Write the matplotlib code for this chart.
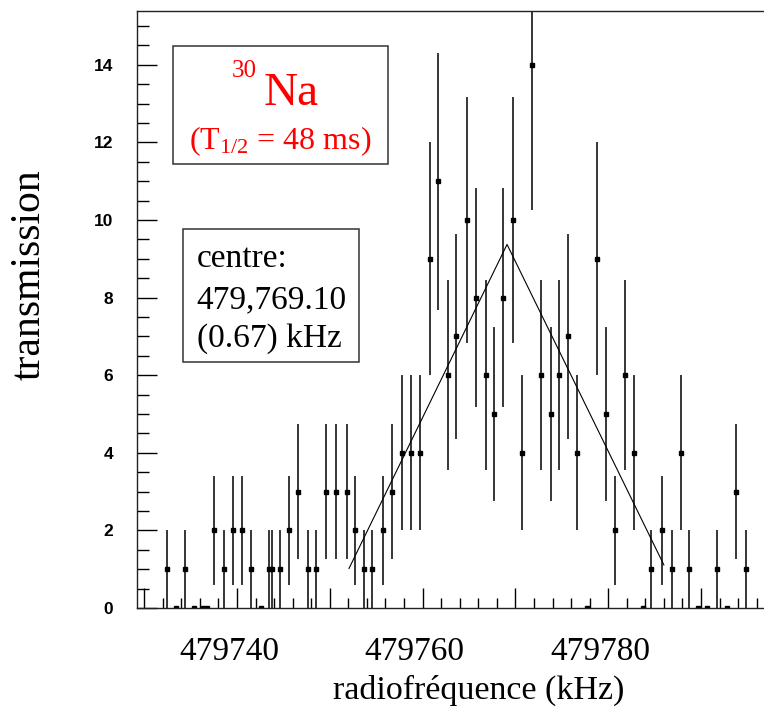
import matplotlib
matplotlib.use("Agg")
import matplotlib.pyplot as plt
import matplotlib.patches as mpatches
import matplotlib.transforms as mtransforms
from matplotlib.ticker import MultipleLocator, FuncFormatter, NullFormatter
import numpy as np

# ---- data ----
freq = [479732.46, 479733.46, 479734.43, 479735.33, 479736.35, 479736.75,
        479737.5, 479738.6, 479739.6, 479740.5, 479741.5, 479742.6,
        479743.4, 479743.8, 479744.6, 479745.6, 479746.6, 479747.6,
        479748.5, 479749.6, 479750.7, 479751.8, 479752.75, 479753.7,
        479754.6, 479755.7, 479756.7, 479757.8, 479758.7, 479759.7,
        479760.8, 479761.7, 479762.7, 479763.6, 479764.8, 479765.8,
        479766.8, 479767.7, 479768.7, 479769.7, 479770.7, 479771.8,
        479772.8, 479773.8, 479774.7, 479775.7, 479776.6, 479777.7,
        479778.8, 479779.8, 479780.7, 479781.8, 479782.8, 479783.7,
        479784.6, 479785.8, 479786.9, 479787.8, 479788.7, 479789.7,
        479790.7, 479791.7, 479792.8, 479793.8, 479794.8]
counts = [1, 0, 1, 0, 0, 0,
          2, 1, 2, 2, 1, 0,
          1, 1, 1, 2, 3, 1,
          1, 3, 3, 3, 2, 1,
          1, 2, 3, 4, 4, 4,
          9, 11, 6, 7, 10, 8,
          6, 5, 8, 10, 4, 14,
          6, 5, 6, 7, 4, 0,
          9, 5, 2, 6, 4, 0,
          1, 2, 1, 4, 1, 0,
          0, 1, 0, 3, 1]
errors = [np.sqrt(c) for c in counts]

fit_x = [479752.07, 479769.10, 479786.0]
fit_y = [1.02, 9.37, 1.11]

x_label_ticks = [479740, 479760, 479780]
y_ticks = [0, 2, 4, 6, 8, 10, 12, 14]

# ---- figure ----
W, H = 764, 715
fig = plt.figure(figsize=(W / 100, H / 100), dpi=100)
plt.rcParams['mathtext.fontset'] = 'custom'
plt.rcParams['mathtext.rm'] = 'Liberation Serif'
plt.rcParams['mathtext.it'] = 'Liberation Serif:italic'

def fx(px):
    return px / W

def fy(py):
    return 1 - py / H

ax = fig.add_axes([fx(137), fy(608), (770 - 137) / W, (608 - 11) / H])
ax.set_xlim(479729.224, 479797.435)
ax.set_ylim(0, 15.387)

ax.errorbar(freq, counts, yerr=errors, fmt='s', color='black', ms=2.6,
            elinewidth=1.1, capsize=0, lw=0, clip_on=True)
ax.plot(fit_x, fit_y, color='black', lw=0.8)

# axes styling
for s in ['left', 'bottom', 'top']:
    ax.spines[s].set_linewidth(1.0)
    ax.spines[s].set_color('#222222')
ax.spines['right'].set_visible(False)

ax.xaxis.set_major_locator(MultipleLocator(10))
ax.xaxis.set_minor_locator(MultipleLocator(2))
ax.xaxis.set_major_formatter(NullFormatter())
ax.yaxis.set_major_locator(MultipleLocator(2))
ax.yaxis.set_minor_locator(MultipleLocator(0.5))
ax.yaxis.set_major_formatter(FuncFormatter(
    lambda v, p: f"{int(round(v))}" if int(round(v)) in y_ticks else ""))

ax.tick_params(axis='x', which='major', direction='in', length=14.5, width=1.0,
               top=False, bottom=True)
ax.tick_params(axis='x', which='minor', direction='in', length=7.2, width=1.0,
               top=False, bottom=True)
ax.tick_params(axis='y', which='major', direction='in', length=14.5, width=1.0,
               pad=17, left=True, right=False)
ax.tick_params(axis='y', which='minor', direction='in', length=8.5, width=1.0,
               left=True, right=False)

for lab in ax.get_yticklabels():
    lab.set_fontfamily('Liberation Sans')
    lab.set_fontweight('bold')
    lab.set_fontsize(12.5)

# x tick labels (slightly left of their ticks, as in the reference)
lab_tr = ax.get_xaxis_transform() + mtransforms.ScaledTranslation(
    -8 / 100, -29 / 100, fig.dpi_scale_trans)
for v in x_label_ticks:
    ax.text(v, 0, f"{v}", transform=lab_tr, family='Liberation Serif',
            fontsize=24, ha='center', va='top', clip_on=False)

# axis titles
fig.text(fx(479), fy(690), "radiofréquence (kHz)", family='Liberation Serif',
         fontsize=24.5, ha='center', va='center')
fig.text(fx(29), fy(275), "transmission", family='Liberation Serif',
         fontsize=30, ha='center', va='center', rotation=90)

# box 1 : nucleus
fig.add_artist(mpatches.Rectangle((fx(173.3), fy(164.3)), (387.7 - 173.3) / W,
                                  (164.3 - 46) / H, transform=fig.transFigure,
                                  fill=False, lw=1.1, ec='#333333'))
fig.text(fx(231.7), fy(77), "30", family='Liberation Serif', fontsize=18,
         color='red', ha='left', va='baseline')
fig.text(fx(264), fy(105), "Na", family='Liberation Serif', fontsize=34,
         color='red', ha='left', va='baseline')
fig.text(fx(280), fy(149), r"(T$_{1/2}$ = 48 ms)", family='Liberation Serif',
         fontsize=23, color='red', ha='center', va='baseline')

# box 2 : centre
fig.add_artist(mpatches.Rectangle((fx(183.3), fy(362.3)), (359 - 183.3) / W,
                                  (362.3 - 229) / H, transform=fig.transFigure,
                                  fill=False, lw=1.1, ec='#333333'))
for txt, yb in [("centre:", 266.7), ("479,769.10", 308), ("(0.67) kHz", 346.7)]:
    fig.text(fx(196.7), fy(yb), txt, family='Liberation Serif', fontsize=24,
             color='black', ha='left', va='baseline')

fig.savefig("out.png", dpi=100)
